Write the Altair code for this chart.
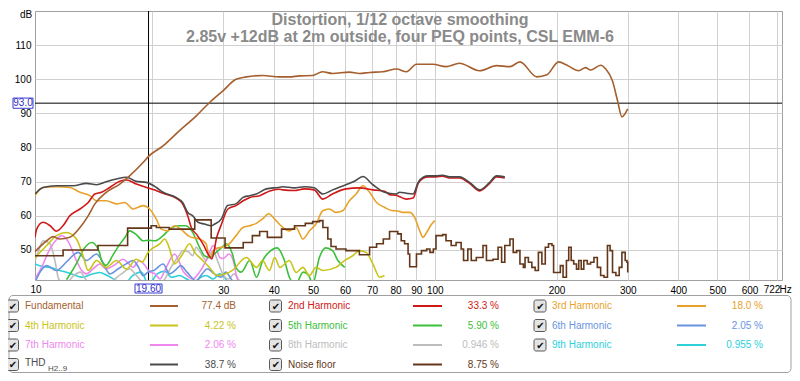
import altair as alt
import pandas as pd

# ---------------- data ----------------
fund_f = [10.27, 10.98, 11.38, 11.83, 12.52, 13.27, 13.9, 14.44, 15.4, 16.64, 17.6, 19.0, 19.6, 21.29, 23.35,
          25.73, 27.76, 29.93, 32.25, 34.17, 37.53, 41.37, 43.7, 46.3, 49.85, 52.76, 55.88, 61.5, 65.1, 69.0,
          74.3, 80.5, 85.1, 90.1, 98.9, 106.6, 115.1, 129.1, 142.1, 153.4, 162.4, 178.8, 189.4, 202.4, 212.4,
          227, 235.9, 242.8, 257.1, 264.7, 275.1, 283.1, 290.2, 295.1, 300]
fund_db = [49.5, 52.7, 53.9, 53.2, 53.7, 56.6, 60.0, 63.5, 66.9, 69.3, 71.7, 75.6, 77.4, 80.5, 84.9,
           89.3, 93.2, 96.6, 100.0, 100.7, 101.1, 100.7, 100.7, 101.0, 101.1, 102.2, 101.7, 102.1, 101.7, 102.0,
           102.2, 103.0, 102.2, 104.4, 104.4, 103.7, 104.7, 102.5, 104.0, 103.7, 105.1, 100.7, 101.3, 105.1, 104.1,
           102.5, 103.4, 102.7, 104.1, 103.0, 99.5, 93.7, 89.0, 89.8, 91.3]

thd_f = [10.27, 10.75, 11.6, 12.77, 13.77, 14.58, 15.4, 16.33, 17.29, 18.28, 19.36, 20.5, 21.29, 22.92, 23.8,
         24.5, 25.22, 25.98, 26.95, 28.01, 28.57, 29.68, 30.73, 32.25, 33.57, 34.88, 36.2, 38.34, 40.97, 42.1,
         45.0, 47.6, 50.35, 52.86, 55.88, 60.3, 63.3, 66.4, 70.3, 75.1, 80.3, 81.9, 85.1, 88.4, 91.0, 93.6,
         96.4, 100.7, 104.6, 108.7, 115.1, 121.9, 129.1, 136.7, 142.1, 149]
thd_db = [66.4, 68.3, 68.8, 68.8, 69.5, 69.1, 70.0, 70.8, 71.3, 70.1, 69.8, 68.3, 66.9, 65.4, 63.9,
          61.0, 60.0, 58.1, 57.6, 57.1, 57.6, 59.1, 63.0, 63.5, 65.4, 65.9, 66.4, 67.9, 68.3, 68.5,
          68.2, 68.5, 68.2, 66.4, 67.6, 69.1, 70.1, 71.5, 69.1, 66.9, 66.4, 66.9, 66.6, 66.4, 69.8, 71.3,
          71.7, 71.7, 71.9, 71.4, 71.4, 69.8, 67.6, 69.8, 71.7, 71.4]

h2_f = [10.27, 10.37, 10.75, 11.19, 11.6, 12.05, 12.52, 13.27, 13.9, 14.44, 15.0, 15.71, 16.64, 17.29, 18.28,
        19.36, 20.67, 21.29, 22.92, 23.8, 24.5, 25.0, 25.8, 26.8, 27.6, 28.1, 28.9, 29.7, 30.8, 32.25,
        33.6, 34.9, 36.9, 39.1, 41.0, 42.1, 45.0, 47.6, 50.35, 52.86, 55.88, 60.3, 65.1, 70.3, 75.1,
        77.3, 80.3, 81.9, 85.1, 88.4, 91.0, 93.6, 96.4, 100.7, 104.6, 108.7, 115.1, 121.9, 129.1, 136.7,
        142.1, 149]
h2_db = [53.7, 56.1, 58.1, 57.1, 55.5, 57.1, 60.0, 62.0, 63.9, 66.4, 66.9, 68.3, 70.1, 70.5, 69.3,
         68.3, 67.2, 66.6, 65.2, 63.5, 60.0, 56.6, 54.5, 51.5, 48.5, 47.4, 53.7, 57.6, 62.0, 63.0,
         64.4, 65.4, 65.9, 67.3, 67.8, 67.6, 67.4, 67.9, 67.6, 64.9, 66.4, 67.9, 68.2, 67.6, 67.2,
         66.2, 66.0, 65.6, 64.9, 65.2, 69.5, 71.0, 71.4, 71.4, 71.6, 71.1, 71.1, 69.5, 67.3, 69.5,
         71.4, 71.1]

h3_f = [10.27, 10.75, 11.6, 12.52, 13.27, 14.04, 14.58, 15.4, 16.33, 17.13, 17.94, 19.0, 19.72, 20.5, 21.08,
        21.84, 22.73, 23.55, 24.77, 26.19, 27.2, 27.76, 28.57, 29.68, 31.04, 32.25, 33.57, 34.88, 36.2, 37.53,
        38.85, 40.36, 42.1, 43.7, 45.4, 47.2, 49.0, 50.85, 52.86, 54.87, 56.95, 59.2, 61.5, 63.9, 66.4,
        69.0, 71.8, 75.1, 78.7, 80.3, 83.4, 86.7, 89.2, 91.8, 93.6, 95.5, 98.3, 100]
h3_db = [65.9, 68.3, 68.5, 68.3, 66.9, 65.9, 64.4, 64.4, 63.5, 63.9, 62.0, 63.0, 62.0, 59.0, 56.1,
         55.6, 57.1, 56.1, 53.9, 53.2, 51.8, 47.8, 50.3, 50.8, 51.8, 54.2, 56.6, 57.1, 57.8, 59.1,
         60.6, 58.8, 56.6, 55.6, 56.6, 53.2, 55.6, 57.6, 61.5, 62.0, 61.0, 61.5, 64.4, 66.4, 68.8,
         66.9, 63.9, 62.5, 61.5, 61.5, 61.0, 61.0, 59.5, 55.6, 53.7, 55.2, 57.6, 58.6]

h4_f = [10.27, 10.98, 11.6, 12.29, 13.0, 13.5, 13.9, 14.58, 15.4, 16.33, 17.29, 18.28, 18.9, 19.6, 20.9,
        21.5, 22.1, 22.7, 23.8, 24.77, 25.5, 26.7, 27.9, 28.9, 30.4, 31.6, 34.2, 36.3, 37.5, 39.0,
        40.2, 41.4, 43.7, 45.4, 47.2, 49.0, 50.85, 52.86, 56.95, 59.8, 62.7, 65.1, 67.7, 70.3, 73.1, 75.1]
h4_db = [47.8, 51.3, 54.2, 55.1, 53.2, 48.3, 44.0, 46.9, 44.9, 46.9, 44.4, 47.3, 46.5, 49.5, 51.8,
         53.2, 50.3, 45.9, 48.8, 51.8, 49.3, 46.9, 44.5, 42.5, 43.0, 44.0, 47.8, 44.9, 46.9, 44.0,
         47.8, 44.9, 46.9, 43.4, 44.9, 42.5, 44.9, 44.0, 44.9, 46.9, 48.3, 49.8, 49.3, 45.9, 42.0, 42.5]

h5_f = [12.29, 13.0, 13.6, 14.2, 14.8, 15.0, 15.4, 16.0, 16.6, 17.1, 17.6, 18.28, 19.0, 19.6, 20.35,
        21.29, 22.35, 23.35, 24.25, 25.22, 26.19, 26.95, 27.76, 28.8, 29.9, 30.5, 31.6, 32.25, 33.2, 34.88,
        36.25, 37.53, 39.05, 40.75, 42.5, 43.7, 45.3, 47.3, 48.8, 49.9, 51.85, 53.8, 55.88, 57.6, 59.9]
h5_db = [41.3, 46.0, 50.5, 52.2, 49.5, 46.9, 45.5, 48.5, 51.5, 53.5, 55.6, 54.5, 52.7, 52.8, 52.7,
         54.2, 56.5, 57.1, 57.1, 55.1, 50.8, 48.3, 47.8, 49.3, 51.0, 51.8, 48.8, 44.9, 43.5, 46.9,
         42.0, 46.9, 49.5, 50.6, 46.9, 42.0, 40.0, 43.5, 42.5, 40.0, 47.8, 50.6, 49.8, 46.9, 44.9]

h6_f = [10.27, 10.57, 10.98, 11.6, 12.29, 13.14, 13.77, 14.58, 15.1, 15.71, 16.5, 17.3, 17.94, 18.5, 19.0,
        19.6, 20.2, 21.3, 22.1, 22.8, 23.55, 24.4, 25.7, 26.6, 27.4, 28.5, 29.7, 30.4, 31.6, 32.5]
h6_db = [40.5, 43.5, 45.4, 44.0, 46.5, 49.3, 46.9, 48.8, 46.5, 43.0, 44.5, 46.0, 46.9, 45.0, 42.5,
         43.6, 44.0, 45.9, 43.0, 44.0, 45.4, 43.5, 41.0, 43.0, 44.5, 43.0, 42.0, 43.5, 41.0, 40.0]

h7_f = [10.27, 10.67, 11.2, 11.6, 11.95, 12.4, 13.0, 13.4, 13.77, 14.3, 14.85, 15.4, 16.1, 16.96, 17.5,
        17.94, 18.6, 19.2, 19.7, 20.35, 20.9, 21.7, 22.73, 23.35, 23.8, 24.4, 25.2, 26.2, 27.2, 27.9,
        28.3, 29.0, 29.4, 30.0, 31.0, 31.9, 32.25, 32.7]
h7_db = [41.5, 45.0, 50.5, 53.0, 54.2, 52.5, 46.9, 44.0, 43.0, 44.5, 45.9, 44.5, 45.5, 47.3, 46.0,
         44.9, 46.9, 45.5, 43.6, 43.0, 41.5, 45.0, 48.8, 46.5, 44.0, 42.5, 41.5, 43.5, 46.9, 50.0,
         51.3, 49.5, 47.8, 47.5, 48.8, 46.0, 43.0, 40.5]

h8_f = [10.27, 10.5, 10.75, 11.19, 11.5, 11.75, 12.2, 12.8, 13.3, 13.8, 15.3, 16.8, 17.6, 18.3, 19.3,
        21.3, 22.3, 23.35, 23.8, 24.6, 25.2, 25.7, 26.4, 27.2, 27.76, 28.3, 29.0, 29.9, 30.9, 31.9, 32.9, 33.9]
h8_db = [46.9, 50.0, 52.7, 51.8, 46.9, 41.5, 40.0, 42.5, 43.5, 41.0, 40.0, 43.0, 44.5, 42.5, 40.0,
         41.0, 45.0, 48.5, 49.8, 49.5, 48.3, 50.8, 49.0, 47.0, 48.5, 49.8, 47.0, 43.0, 41.5, 43.0, 41.0, 40.0]

h9_f = [10.27, 10.67, 11.19, 11.83, 12.5, 13.1, 13.5, 14.1, 14.85, 15.5, 16.33, 17.1, 17.9, 18.8, 19.6,
        20.6, 21.5, 22.35, 23.35, 24.35, 25.4, 26.4, 27.2, 28.35, 29.35, 30.2, 30.9]
h9_db = [45.9, 45.2, 44.9, 44.0, 43.2, 42.3, 42.0, 42.8, 43.4, 42.5, 41.0, 40.0, 42.5, 43.5, 40.0,
         43.0, 43.8, 42.0, 42.5, 41.5, 40.5, 42.0, 42.5, 41.5, 43.0, 42.0, 40.0]

noise_f = [10.27, 12.05, 14.7, 17.4, 19.9, 20.5, 22.05, 25.5, 28.0, 30.3, 33.6, 35.4, 36.9, 38.55, 41.8,
           45.0, 47.85, 49.9, 51.9, 52.9, 54.4, 55.4, 57.0, 60.3, 65.1, 69.0, 71.8, 74.6, 77.3, 81.0,
           82.6, 84.2, 85.9, 86.7, 89.2, 90.1, 92.7, 95.5, 97.3, 99.2, 100.7, 104.6, 106.6, 109.8, 112.9,
           116.2, 117.8, 120.7, 123.1, 126.7, 131.6, 134.2, 139.3, 143.4, 146.3, 149, 153.4, 156.3, 159.4, 162.4,
           165.6, 167.2, 170.4, 173.8, 177.1, 180.4, 184, 187.6, 191.1, 194.9, 196.7, 202.4, 204.4, 207.6, 211.6,
           214.4, 217.4, 220.6, 224.1, 227, 230.2, 233.6, 238.3, 242.8, 247.5, 252.3, 257.1, 262.1, 267.3, 271.3,
           275.1, 280.4, 285.8, 290.2, 295.7, 298.6, 300]
noise_db = [48.3, 50.0, 51.3, 56.4, 57.1, 56.6, 56.1, 58.8, 53.5, 50.6, 52.2, 54.2, 55.4, 53.7, 56.1,
            57.1, 57.8, 58.3, 58.6, 56.6, 53.2, 51.0, 50.3, 49.8, 48.6, 50.8, 51.8, 53.2, 55.4, 54.7,
            52.7, 51.8, 48.8, 45.1, 45.1, 48.8, 49.8, 50.3, 49.3, 50.3, 54.2, 54.5, 52.7, 51.3, 52.2,
            50.3, 46.9, 50.3, 46.9, 47.8, 51.3, 46.9, 47.3, 50.8, 46.4, 51.3, 53.2, 49.3, 49.8, 45.9,
            44.9, 47.8, 46.4, 44.9, 44.0, 49.3, 45.9, 50.8, 51.8, 51.3, 43.4, 43.4, 45.4, 42.0, 46.9,
            50.8, 46.9, 45.9, 44.4, 46.9, 44.4, 46.9, 45.9, 46.4, 47.8, 44.9, 42.5, 42.0, 51.3, 49.8,
            43.4, 42.5, 44.9, 49.3, 46.9, 46.4, 43.4]

cursor_freq = 19.6
cursor_level = 93.0

legend_names = ["Fundamental", "2nd Harmonic", "3rd Harmonic", "4th Harmonic", "5th Harmonic",
                "6th Harmonic", "7th Harmonic", "8th Harmonic", "9th Harmonic", "THD", "Noise floor"]
legend_values = ["77.4 dB", "33.3 %", "18.0 %", "4.22 %", "5.90 %", "2.05 %", "2.06 %",
                 "0.946 %", "0.955 %", "38.7 %", "8.75 %"]

x_grid = [20, 30, 40, 50, 60, 70, 80, 90, 100, 200, 300, 400, 500, 600, 700]
y_ticks = [50, 60, 70, 80, 90, 100, 110]

title_lines = ["Distortion, 1/12 octave smoothing",
               "2.85v +12dB at 2m outside, four PEQ points, CSL EMM-6"]

# ---------------- style / layout ----------------
FONT = "Liberation Sans"
W, H = 747, 269
colors = {
    "Fundamental": "#a55f2e", "2nd Harmonic": "#d01818", "3rd Harmonic": "#e8a22a",
    "4th Harmonic": "#c9c41a", "5th Harmonic": "#3cc03c", "6th Harmonic": "#6a93e0",
    "7th Harmonic": "#ee88ee", "8th Harmonic": "#bdbdbd", "9th Harmonic": "#2ed0da",
    "THD": "#4a4a4a", "Noise floor": "#64371a",
}

xs = alt.Scale(type="log", domain=[10.27, 722], nice=False)
ys = alt.Scale(domain=[41.2, 120], nice=False, zero=False)
x_axis = alt.Axis(values=x_grid,
                  labelExpr="(datum.value == 20 || datum.value == 700) ? '' : format(datum.value, 'd')",
                  grid=True, gridColor="#d0d0d0", ticks=False, domain=False, labelFont=FONT,
                  labelFontSize=10, labelColor="#000000", labelPadding=5, labelFlush=False,
                  labelOverlap=False, title=None)
y_axis = alt.Axis(values=y_ticks, grid=True, gridColor="#d0d0d0", ticks=False, domain=False,
                  labelFont=FONT, labelFontSize=10, labelColor="#000000", labelPadding=4, title=None)


def series_layer(name, f, db, interp="monotone", width=1.6):
    df = pd.DataFrame({"f": f, "db": db})
    return alt.Chart(df).mark_line(color=colors[name], strokeWidth=width, interpolate=interp, clip=True).encode(
        x=alt.X("f:Q", scale=xs, axis=x_axis), y=alt.Y("db:Q", scale=ys, axis=y_axis))


one = pd.DataFrame({"k": [0]})


def txt(text, x, y, **kw):
    return alt.Chart(one).mark_text(text=text, **kw).encode(x=alt.value(x), y=alt.value(y))


layers = []
# cursor lines
layers.append(alt.Chart(one).mark_rule(color="#000000", strokeWidth=1).encode(
    y=alt.Y(datum=cursor_level, scale=ys, axis=y_axis), x=alt.value(0), x2=alt.value(W)))
layers.append(alt.Chart(one).mark_rule(color="#000000", strokeWidth=1).encode(
    x=alt.X(datum=cursor_freq, scale=xs, axis=x_axis), y=alt.value(0), y2=alt.value(H)))

# data series (back to front)
layers += [
    series_layer("9th Harmonic", h9_f, h9_db),
    series_layer("8th Harmonic", h8_f, h8_db),
    series_layer("7th Harmonic", h7_f, h7_db),
    series_layer("6th Harmonic", h6_f, h6_db),
    series_layer("5th Harmonic", h5_f, h5_db),
    series_layer("4th Harmonic", h4_f, h4_db),
    series_layer("3rd Harmonic", h3_f, h3_db),
    series_layer("2nd Harmonic", h2_f, h2_db),
    series_layer("THD", thd_f, thd_db),
    series_layer("Noise floor", noise_f, noise_db, interp="step-after"),
    series_layer("Fundamental", fund_f, fund_db),
]

# cursor labels
layers.append(alt.Chart(one).mark_rect(fill="#ffffff", stroke="#3b3bd6", strokeWidth=1).encode(
    x=alt.value(-22), x2=alt.value(-2),
    y=alt.Y(datum=cursor_level + 1.5, scale=ys, axis=y_axis), y2=alt.Y2(datum=cursor_level - 1.5)))
layers.append(alt.Chart(one).mark_text(text="%.1f" % cursor_level, font=FONT, fontSize=10, color="#3030c8",
                                       align="center", baseline="middle").encode(
    x=alt.value(-12), y=alt.Y(datum=cursor_level, scale=ys, axis=y_axis)))
layers.append(alt.Chart(one).mark_rect(fill="#ffffff", stroke="#3b3bd6", strokeWidth=1).encode(
    x=alt.X(datum=cursor_freq / 1.08, scale=xs, axis=x_axis), x2=alt.X2(datum=cursor_freq * 1.08),
    y=alt.value(H + 4), y2=alt.value(H + 13)))
layers.append(alt.Chart(one).mark_text(text="%.2f" % cursor_freq, font=FONT, fontSize=10, color="#3030c8",
                                       align="center", baseline="middle").encode(
    x=alt.X(datum=cursor_freq, scale=xs, axis=x_axis), y=alt.value(H + 9)))

# axis extras
layers.append(txt("10", 1, H + 5, font=FONT, fontSize=10, color="#000000", align="center", baseline="top"))
layers.append(txt("722", 737, H + 5, font=FONT, fontSize=10, color="#000000", align="center", baseline="top"))
layers.append(txt("Hz", 744.5, H + 5, font=FONT, fontSize=10, color="#000000", align="left", baseline="top"))
layers.append(txt("dB", -9, 7, font=FONT, fontSize=10, color="#000000", align="center", baseline="alphabetic"))

# title
layers.append(txt(title_lines[0], 365, 9, font=FONT, fontSize=16, fontWeight="bold", color="#8a8a8a",
                  align="center", baseline="middle"))
layers.append(txt(title_lines[1], 365, 26, font=FONT, fontSize=16, fontWeight="bold", color="#8a8a8a",
                  align="center", baseline="middle"))

# legend panel
CB_X = [-22.5, 240.5, 505]
NAME_X = [-10, 253, 517]
LINE_X = [(115, 143), (378, 407), (642, 671)]
VAL_X = [201, 464, 728]
ROW_Y = [295, 314.5, 334, 353.5]

layers.append(alt.Chart(one).mark_rect(fill="#ffffff", fillOpacity=0, stroke="#a0a0a0", strokeWidth=1,
                                       cornerRadius=4).encode(
    x=alt.value(-26), x2=alt.value(756), y=alt.value(284.5), y2=alt.value(361.5)))

for i, (name, val) in enumerate(zip(legend_names, legend_values)):
    col, row = i % 3, i // 3
    cx, ry = CB_X[col], ROW_Y[row]
    c = colors[name]
    layers.append(alt.Chart(one).mark_rect(fill="#e4e4e4", stroke="#5a5a5a", strokeWidth=1,
                                           cornerRadius=2).encode(
        x=alt.value(cx - 6), x2=alt.value(cx + 6), y=alt.value(ry - 6), y2=alt.value(ry + 6)))
    layers.append(txt("\u2714", cx + 0.5, ry + 0.5, font="DejaVu Sans", fontSize=10, color="#111111",
                      align="center", baseline="middle"))
    if name == "THD":
        layers.append(txt("THD", NAME_X[col], ry - 2, font=FONT, fontSize=10, color=c,
                          align="left", baseline="middle"))
        layers.append(txt("H2..9", NAME_X[col] + 23, ry + 4, font=FONT, fontSize=8, color=c,
                          align="left", baseline="middle"))
    else:
        layers.append(txt(name, NAME_X[col], ry, font=FONT, fontSize=10, color=c,
                          align="left", baseline="middle"))
    x0, x1 = LINE_X[col]
    layers.append(alt.Chart(one).mark_rule(color=c, strokeWidth=2).encode(
        x=alt.value(x0), x2=alt.value(x1), y=alt.value(ry)))
    layers.append(txt(val, VAL_X[col], ry, font=FONT, fontSize=10, color=c, align="right", baseline="middle"))

chart = alt.layer(*layers).properties(
    width=W, height=H,
    padding={"left": 27, "top": 3, "right": 10, "bottom": 93},
    autosize=alt.AutoSizeParams(type="none"),
    background="#ffffff",
).configure_view(stroke="#a0a0a0", strokeWidth=1)

chart.save("out.html", embed_options={"renderer": "svg", "actions": False})
